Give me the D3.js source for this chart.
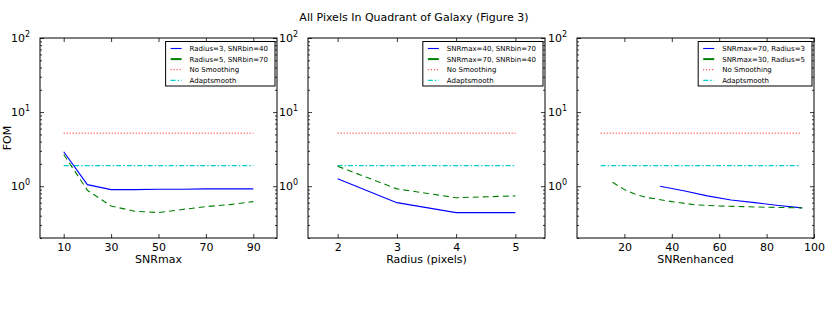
<!DOCTYPE html>
<html>
<head>
<meta charset="utf-8">
<script src="https://cdnjs.cloudflare.com/ajax/libs/d3/7.8.5/d3.min.js"></script>
<style>
  body { margin: 0; background: #fff; }
  svg { font-family: "DejaVu Sans", sans-serif; }
</style>
</head>
<body>
<div id="chart"></div>
<script>
// data
var snrmax = [10, 20, 30, 40, 50, 60, 70, 80, 90];
var fomR3Bin40 = [2.92, 1.05, 0.90, 0.90, 0.91, 0.91, 0.92, 0.92, 0.92];
var fomR5Bin70 = [2.68, 0.88, 0.54, 0.46, 0.44, 0.485, 0.53, 0.565, 0.62];

var radius = [2, 3, 4, 5];
var fomMax40Bin70 = [1.26, 0.60, 0.44, 0.44];
var fomMax70Bin40 = [1.86, 0.92, 0.70, 0.74];

var snrEnhA = [35, 45, 55, 65, 75, 85, 95];
var fomMax70R3 = [1.00, 0.87, 0.74, 0.65, 0.60, 0.55, 0.51];
var snrEnhB = [15, 20, 25, 30, 40, 50, 60, 70, 80, 95];
var fomMax30R5 = [1.13, 0.90, 0.77, 0.70, 0.62, 0.56, 0.54, 0.53, 0.52, 0.51];

var noSmoothFom = 5.2;
var adaptFom = 1.9;

var xTicks1 = [10, 30, 50, 70, 90];
var xTicks2 = [2, 3, 4, 5];
var xTicks3 = [20, 40, 60, 80, 100];
var yMajor = [1, 10, 100];
var yExp = ["0", "1", "2"];

var legend1 = ["Radius=3, SNRbin=40", "Radius=5, SNRbin=70", "No Smoothing", "Adaptsmooth"];
var legend2 = ["SNRmax=40, SNRbin=70", "SNRmax=70, SNRbin=40", "No Smoothing", "Adaptsmooth"];
var legend3 = ["SNRmax=70, Radius=3", "SNRmax=30, Radius=5", "No Smoothing", "Adaptsmooth"];

var styles = [
  { color: "#0000ff", dash: null, width: 1.1 },
  { color: "#008000", dash: "6,4", width: 1.1 },
  { color: "#ff0000", dash: "1,2", width: 1 },
  { color: "#00cccc", dash: "5,2,1.5,2", width: 1.2 }
];

var panels = [
  { left: 40, right: 277, domain: [0, 100], ticks: xTicks1, label: "SNRmax",
    series: [[snrmax, fomR3Bin40], [snrmax, fomR5Bin70]], ref: [10, 90], legend: legend1 },
  { left: 308, right: 545, domain: [1.5, 5.5], ticks: xTicks2, label: "Radius (pixels)",
    series: [[radius, fomMax40Bin70], [radius, fomMax70Bin40]], ref: [2, 5], legend: legend2 },
  { left: 577, right: 814, domain: [0, 100], ticks: xTicks3, label: "SNRenhanced",
    series: [[snrEnhA, fomMax70R3], [snrEnhB, fomMax30R5]], ref: [10, 94], legend: legend3 }
];

var svgWidth = 830, svgHeight = 315;
var plotTop = 38, plotBottom = 238;

var svg = d3.select("#chart").append("svg")
  .attr("width", svgWidth)
  .attr("height", svgHeight);

svg.append("text")
  .attr("x", 414).attr("y", 21)
  .attr("text-anchor", "middle")
  .attr("font-size", "11px")
  .text("All Pixels In Quadrant of Galaxy (Figure 3)");

svg.append("text")
  .attr("transform", "translate(11, 138) rotate(-90)")
  .attr("text-anchor", "middle")
  .attr("font-size", "11px")
  .text("FOM");

var yScale = d3.scaleLog().domain([0.2, 100]).range([plotBottom, plotTop]);
var yMinor = [];
[0.1, 1, 10].forEach(function(dec) {
  for (var k = 2; k <= 9; k++) {
    var v = dec * k;
    if (v >= 0.2 && v < 100) yMinor.push(v);
  }
});

panels.forEach(function(p, i) {
  var xScale = d3.scaleLinear().domain(p.domain).range([p.left, p.right]);
  var g = svg.append("g");

  // x axis bottom + top ticks
  var xb = g.append("g")
    .attr("transform", `translate(0, ${plotBottom})`)
    .call(d3.axisBottom(xScale).tickValues(p.ticks).tickFormat(d3.format("d"))
      .tickSizeInner(-4).tickSizeOuter(0).tickPadding(5));
  xb.selectAll("text").attr("font-size", "11px").attr("font-family", "DejaVu Sans, sans-serif").attr("fill", "#000");
  g.append("g")
    .attr("transform", `translate(0, ${plotTop})`)
    .call(d3.axisTop(xScale).tickValues(p.ticks).tickSizeInner(-4).tickSizeOuter(0).tickFormat(""));

  // y axis major/minor both sides
  g.append("g").attr("transform", `translate(${p.left}, 0)`)
    .call(d3.axisLeft(yScale).tickValues(yMajor).tickSizeInner(-4).tickSizeOuter(0).tickFormat(""));
  g.append("g").attr("transform", `translate(${p.left}, 0)`)
    .call(d3.axisLeft(yScale).tickValues(yMinor).tickSizeInner(-2).tickSizeOuter(0).tickFormat(""));
  g.append("g").attr("transform", `translate(${p.right}, 0)`)
    .call(d3.axisRight(yScale).tickValues(yMajor).tickSizeInner(-4).tickSizeOuter(0).tickFormat(""));
  g.append("g").attr("transform", `translate(${p.right}, 0)`)
    .call(d3.axisRight(yScale).tickValues(yMinor).tickSizeInner(-2).tickSizeOuter(0).tickFormat(""));
  g.selectAll(".domain").remove();
  g.selectAll(".tick line").attr("stroke", "#000").attr("stroke-width", 0.8);

  // y labels 10^n
  var yl = g.selectAll(".ylab").data(yMajor).enter()
    .append("text")
    .attr("class", "ylab")
    .attr("x", p.left - 10)
    .attr("y", d => yScale(d) + 4)
    .attr("text-anchor", "end")
    .attr("font-size", "11px")
    .text("10");
  yl.append("tspan")
    .attr("dy", "-5")
    .attr("font-size", "8px")
    .text((d, j) => yExp[j]);

  // reference lines
  var line = d3.line().x(d => xScale(d[0])).y(d => yScale(d[1]));
  var refVals = [noSmoothFom, adaptFom];
  refVals.forEach(function(v, j) {
    var s = styles[j + 2];
    g.append("path")
      .attr("d", line([[p.ref[0], v], [p.ref[1], v]]))
      .attr("fill", "none")
      .attr("stroke", s.color)
      .attr("stroke-width", s.width)
      .attr("stroke-dasharray", s.dash);
  });

  // series
  p.series.forEach(function(sr, j) {
    var s = styles[j];
    var pts = sr[0].map((x, k) => [x, sr[1][k]]);
    g.append("path")
      .attr("d", line(pts))
      .attr("fill", "none")
      .attr("stroke", s.color)
      .attr("stroke-width", s.width)
      .attr("stroke-dasharray", s.dash);
  });

  // frame
  g.append("rect")
    .attr("x", p.left).attr("y", plotTop)
    .attr("width", p.right - p.left).attr("height", plotBottom - plotTop)
    .attr("fill", "none").attr("stroke", "#000").attr("stroke-width", 1);

  // x label
  g.append("text")
    .attr("x", (p.left + p.right) / 2)
    .attr("y", 263)
    .attr("text-anchor", "middle")
    .attr("font-size", "11px")
    .text(p.label);

  // legend
  var lg = g.append("g");
  var texts = lg.selectAll("text").data(p.legend).enter()
    .append("text")
    .attr("y", (d, j) => 51 + j * 10.6)
    .attr("font-size", "7px")
    .text(d => d);
  var maxW = d3.max(texts.nodes(), n => n.getComputedTextLength());
  var boxW = maxW + 31;
  var boxX = p.right - 2 - boxW;
  texts.attr("x", boxX + 24);
  lg.insert("rect", "text")
    .attr("x", boxX).attr("y", 41.5)
    .attr("width", boxW).attr("height", 44.5)
    .attr("fill", "#fff").attr("stroke", "#000").attr("stroke-width", 1);
  styles.forEach(function(s, j) {
    var yy = 48.5 + j * 10.6;
    lg.append("line")
      .attr("x1", boxX + 5).attr("x2", boxX + 16)
      .attr("y1", yy).attr("y2", yy)
      .attr("stroke", s.color)
      .attr("stroke-width", j === 1 ? 2 : s.width)
      .attr("stroke-dasharray", j === 1 ? null : s.dash);
  });
});
</script>
</body>
</html>
